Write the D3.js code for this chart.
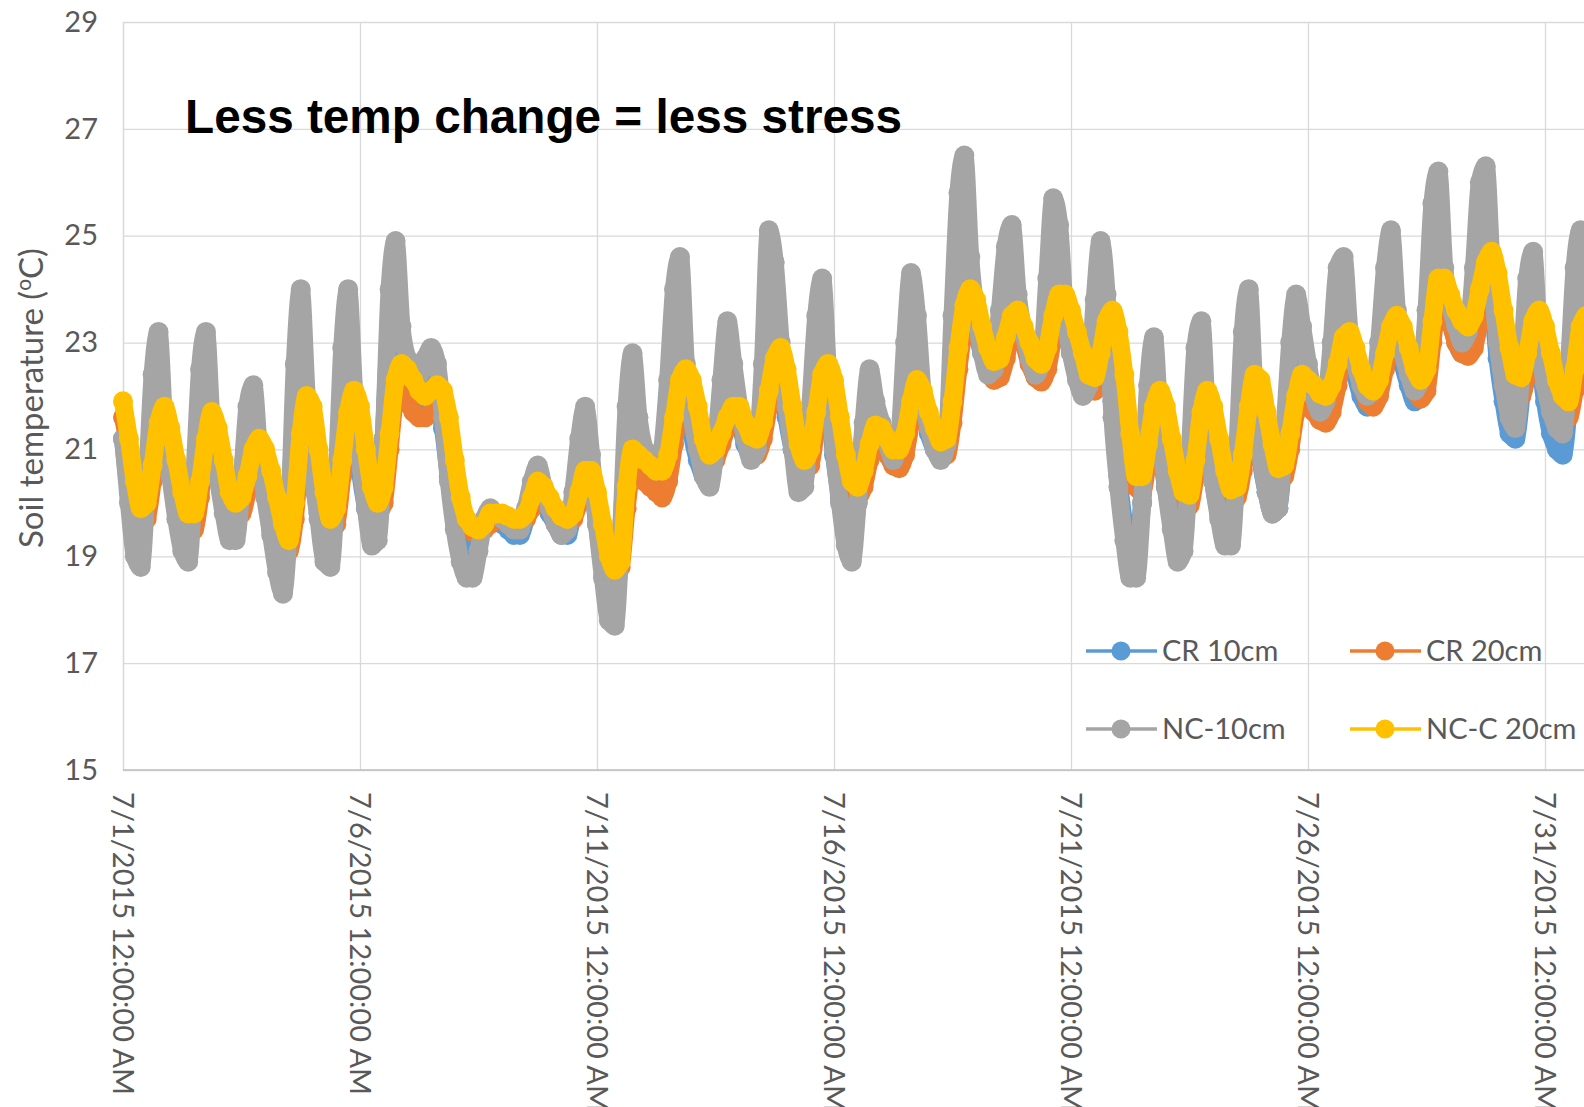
<!DOCTYPE html>
<html>
<head>
<meta charset="utf-8">
<script src="https://cdn.jsdelivr.net/npm/d3@7"></script>
<style>
  body { margin: 0; background: #fff; }
  svg { display: block; }
  .tick line { stroke: #d9d9d9; stroke-width: 1.3; }
  .axis-text { fill: #595959; font-family: Lato, "Open Sans", sans-serif; }
</style>
</head>
<body>
<div id="chart"></div>
<script>
// Soil temperature, July 2015, readings every 3 hours from 7/1 12:00 AM
var startTime = Date.UTC(2015, 6, 1);
var stepHours = 3;

var seriesNames = ["CR 10cm", "CR 20cm", "NC-10cm", "NC-C 20cm"];
var seriesColors = ["#5b9bd5", "#ed7d31", "#a5a5a5", "#ffc000"];

// one row per day: 0h 3h 6h 9h 12h 15h 18h 21h
var cr10 = [
  21.2, 20.2, 19.4, 19.3, 20.4, 21.8, 22.3, 21.3,
  20.6, 19.9, 19.4, 19.3, 20.4, 21.8, 22.3, 21.2,
  20.5, 19.9, 19.5, 19.6, 20.4, 21.5, 21.8, 20.9,
  20.2, 19.5, 18.9, 18.7, 19.8, 21.8, 22.5, 21.4,
  20.5, 19.8, 19.2, 19.1, 20.3, 22.0, 22.6, 21.6,
  20.6, 19.9, 19.4, 19.6, 21.2, 23.2, 23.1, 22.5,
  22.2, 22.0, 21.9, 22.2, 22.4, 22.1, 21.4, 20.5,
  19.8, 19.3, 19.0, 19.0, 19.3, 19.6, 19.8, 19.7,
  19.6, 19.5, 19.4, 19.4, 19.7, 20.1, 20.4, 20.1,
  19.8, 19.6, 19.4, 19.4, 19.9, 20.7, 21.2, 20.6,
  19.6, 18.8, 18.1, 18.0, 19.3, 21.2, 21.9, 21.2,
  20.8, 20.6, 20.5, 20.8, 21.8, 22.9, 23.0, 22.1,
  21.3, 20.8, 20.5, 20.4, 21.0, 22.0, 22.7, 22.2,
  21.6, 21.1, 20.9, 21.0, 22.2, 23.3, 23.3, 22.5,
  21.6, 21.0, 20.5, 20.5, 21.5, 22.7, 22.9, 22.0,
  20.9, 20.1, 19.5, 19.3, 20.0, 21.2, 21.8, 21.5,
  21.3, 21.0, 20.9, 21.1, 22.2, 23.0, 22.8, 21.9,
  21.3, 21.0, 20.9, 21.1, 22.8, 24.2, 24.5, 23.7,
  23.2, 22.8, 22.5, 22.6, 23.3, 24.0, 24.2, 23.6,
  23.1, 22.7, 22.5, 22.7, 23.6, 24.3, 24.1, 23.3,
  22.8, 22.4, 22.1, 22.3, 23.2, 23.8, 23.4, 21.9,
  20.5, 19.6, 19.1, 19.0, 20.0, 21.6, 22.3, 21.2,
  20.3, 19.7, 19.3, 19.4, 20.6, 22.1, 22.5, 21.4,
  20.4, 19.8, 19.5, 19.5, 20.6, 22.2, 22.8, 21.7,
  20.8, 20.2, 19.8, 19.9, 21.0, 22.4, 22.9, 22.7,
  22.3, 21.9, 21.7, 21.8, 22.6, 23.6, 23.8, 23.0,
  22.4, 22.0, 21.8, 21.9, 22.6, 23.6, 24.0, 23.2,
  22.6, 22.2, 21.9, 22.0, 23.0, 24.4, 24.9, 23.9,
  23.4, 23.0, 22.8, 22.9, 23.8, 24.9, 25.1, 24.0,
  22.7, 21.9, 21.3, 21.2, 22.0, 23.4, 23.9, 22.8,
  21.9, 21.3, 21.0, 20.9, 21.8, 23.4, 24.0, 23.2,
  22.5
];

var cr20 = [
  21.6, 21.0, 20.2, 19.6, 19.7, 20.4, 21.3, 21.6,
  21.2, 20.6, 19.9, 19.5, 19.5, 20.1, 21.0, 21.5,
  21.2, 20.6, 20.0, 19.8, 19.8, 20.2, 20.8, 21.0,
  20.8, 20.4, 19.9, 19.4, 19.1, 19.7, 21.0, 21.8,
  21.6, 20.8, 20.0, 19.5, 19.6, 20.5, 21.5, 21.9,
  21.6, 20.8, 20.0, 19.8, 20.0, 21.0, 22.0, 22.2,
  21.9, 21.7, 21.6, 21.6, 21.7, 21.8, 21.7, 21.1,
  20.6, 20.0, 19.6, 19.45, 19.4, 19.5, 19.6, 19.7,
  19.7, 19.6, 19.6, 19.6, 19.7, 19.9, 20.2, 20.1,
  19.9, 19.8, 19.6, 19.6, 19.7, 20.0, 20.4, 20.4,
  20.0, 19.4, 18.9, 18.6, 18.8, 19.9, 20.6, 20.5,
  20.4, 20.3, 20.2, 20.1, 20.4, 21.1, 21.9, 22.2,
  22.0, 21.5, 21.0, 20.7, 20.8, 21.1, 21.4, 21.6,
  21.6, 21.3, 21.0, 20.9, 21.2, 21.8, 22.4, 22.7,
  22.3, 21.6, 20.9, 20.6, 20.7, 21.4, 22.1, 22.4,
  22.1, 21.4, 20.7, 20.2, 20.1, 20.3, 20.8, 21.2,
  21.1, 20.9, 20.7, 20.65, 20.9, 21.5, 22.0, 21.9,
  21.4, 21.1, 20.9, 20.9, 21.5, 22.5, 23.3, 23.7,
  23.4, 22.9, 22.5, 22.3, 22.35, 22.7, 23.2, 23.3,
  23.0, 22.6, 22.35, 22.27, 22.5, 23.1, 23.6, 23.6,
  23.3, 22.8, 22.4, 22.15, 22.1, 22.5, 23.1, 23.3,
  22.9, 22.1, 21.1, 20.3, 20.2, 20.8, 21.5, 21.9,
  21.6, 21.0, 20.4, 20.0, 19.95, 20.5, 21.4, 21.8,
  21.6, 21.0, 20.4, 20.05, 20.1, 20.6, 21.5, 22.1,
  22.0, 21.4, 20.8, 20.45, 20.5, 21.0, 21.7, 22.1,
  21.9, 21.7, 21.55, 21.5, 21.7, 22.2, 22.8, 23.0,
  22.6, 22.2, 21.9, 21.8, 22.0, 22.5, 23.0, 23.3,
  23.0, 22.5, 22.1, 21.95, 22.1, 23.0, 23.8, 23.9,
  23.4, 23.0, 22.8, 22.75, 22.9, 23.4, 24.0, 24.3,
  23.9, 23.2, 22.5, 22.0, 22.0, 22.4, 23.1, 23.4,
  23.0, 22.4, 21.9, 21.65, 21.6, 22.1, 22.9, 23.2,
  23.0
];

var nc10 = [
  21.2, 20.0, 19.0, 18.8, 20.3, 22.4, 23.2, 21.4,
  20.5, 19.7, 19.1, 18.9, 20.4, 22.5, 23.2, 21.4,
  20.5, 19.8, 19.3, 19.3, 20.3, 21.8, 22.2, 20.9,
  20.1, 19.4, 18.7, 18.3, 19.6, 22.6, 24.0, 22.0,
  20.6, 19.7, 18.9, 18.8, 20.3, 22.9, 24.0, 22.1,
  20.8, 19.9, 19.2, 19.3, 21.2, 24.0, 24.9, 23.3,
  22.7, 22.5, 22.4, 22.7, 22.9, 22.6, 21.6, 20.4,
  19.5, 18.9, 18.6, 18.6, 19.1, 19.7, 19.9, 19.8,
  19.7, 19.6, 19.5, 19.5, 19.9, 20.4, 20.7, 20.3,
  19.9, 19.6, 19.4, 19.5, 20.2, 21.2, 21.8, 20.9,
  19.6, 18.6, 17.8, 17.7, 19.3, 21.8, 22.8, 21.6,
  21.0, 20.7, 20.6, 21.0, 22.3, 24.0, 24.6, 22.6,
  21.6, 21.0, 20.5, 20.3, 21.0, 22.3, 23.4, 22.6,
  21.8, 21.2, 20.8, 21.0, 22.6, 25.1, 24.5, 23.0,
  21.8, 21.0, 20.2, 20.3, 21.8, 23.5, 24.2, 22.4,
  21.0, 20.0, 19.2, 18.9, 20.0, 21.5, 22.5, 21.9,
  21.5, 21.1, 20.8, 21.2, 23.0, 24.3, 23.5, 22.0,
  21.4, 21.0, 20.8, 21.1, 23.5, 25.8, 26.5, 24.6,
  23.5, 22.8, 22.4, 22.5, 23.6, 24.8, 25.2, 23.9,
  23.2, 22.7, 22.4, 22.6, 24.2, 25.7, 25.2, 23.5,
  22.8, 22.3, 22.0, 22.2, 23.8, 24.9, 23.9, 21.6,
  20.3, 19.3, 18.6, 18.6, 20.0, 22.2, 23.1, 21.4,
  20.3, 19.5, 18.9, 19.1, 20.8, 22.9, 23.4, 21.5,
  20.4, 19.7, 19.2, 19.2, 20.8, 23.2, 24.0, 22.0,
  20.9, 20.2, 19.8, 19.9, 21.3, 23.0, 23.9, 23.3,
  22.6, 22.0, 21.7, 21.9, 23.0, 24.4, 24.6, 23.2,
  22.6, 22.2, 22.0, 22.1, 23.0, 24.4, 25.1, 23.6,
  22.8, 22.4, 22.1, 22.3, 23.6, 25.6, 26.2, 24.4,
  23.7, 23.3, 23.0, 23.2, 24.4, 26.0, 26.3, 24.4,
  23.0, 22.2, 21.6, 21.4, 22.4, 24.2, 24.7, 23.0,
  22.2, 21.7, 21.4, 21.3, 22.5, 24.4, 25.1, 23.6,
  22.8
];

var ncc20 = [
  21.9, 21.2, 20.4, 19.9, 20.0, 20.7, 21.5, 21.8,
  21.4, 20.8, 20.2, 19.8, 19.8, 20.4, 21.2, 21.7,
  21.4, 20.8, 20.2, 20.0, 20.1, 20.5, 21.0, 21.2,
  21.0, 20.6, 20.1, 19.6, 19.3, 20.0, 21.3, 22.0,
  21.8, 21.0, 20.2, 19.7, 19.9, 20.8, 21.7, 22.1,
  21.8, 21.0, 20.3, 20.0, 20.3, 21.3, 22.3, 22.6,
  22.5, 22.3, 22.1, 22.0, 22.1, 22.2, 22.1, 21.6,
  20.8, 20.1, 19.7, 19.55, 19.5, 19.6, 19.8, 19.8,
  19.8, 19.75, 19.7, 19.7, 19.8, 20.1, 20.4, 20.3,
  20.1, 19.9, 19.75, 19.7, 19.8, 20.2, 20.6, 20.6,
  20.2, 19.6, 19.0, 18.75, 18.9, 20.3, 21.0, 20.9,
  20.8, 20.7, 20.6, 20.6, 20.9, 21.6, 22.3, 22.5,
  22.3, 21.8, 21.2, 20.9, 21.0, 21.3, 21.6, 21.8,
  21.8, 21.5, 21.25, 21.2, 21.5, 22.1, 22.7, 22.9,
  22.5, 21.8, 21.1, 20.8, 21.0, 21.7, 22.4, 22.6,
  22.3, 21.6, 20.9, 20.4, 20.3, 20.6, 21.1, 21.45,
  21.4, 21.2, 21.0, 21.0, 21.3, 21.9, 22.3, 22.1,
  21.7, 21.4, 21.15, 21.2, 21.9, 22.9, 23.7, 24.0,
  23.8, 23.3, 22.9, 22.65, 22.7, 23.1, 23.5, 23.6,
  23.3, 23.0, 22.7, 22.6, 22.9, 23.5, 23.9, 23.9,
  23.6, 23.2, 22.8, 22.4, 22.35, 22.8, 23.4, 23.6,
  23.2, 22.4, 21.3, 20.5, 20.5, 21.1, 21.8, 22.1,
  21.8, 21.2, 20.6, 20.2, 20.15, 20.8, 21.7, 22.1,
  21.8, 21.2, 20.6, 20.25, 20.3, 20.9, 21.8, 22.4,
  22.3, 21.7, 21.1, 20.65, 20.7, 21.3, 22.0, 22.4,
  22.3, 22.2, 22.05, 22.0, 22.2, 22.6, 23.1, 23.2,
  22.9, 22.5, 22.2, 22.1, 22.3, 22.8, 23.3, 23.5,
  23.3, 22.9, 22.5, 22.3, 22.5, 23.4, 24.2, 24.2,
  23.9, 23.6, 23.4, 23.3, 23.5, 24.0, 24.5, 24.7,
  24.3, 23.6, 22.9, 22.4, 22.35, 22.8, 23.4, 23.6,
  23.3, 22.8, 22.3, 22.0, 21.9, 22.5, 23.3, 23.5,
  23.3
];

var yTicks = [15, 17, 19, 21, 23, 25, 27, 29];
var xTickDates = [1, 6, 11, 16, 21, 26, 31].map(function(day) { return new Date(Date.UTC(2015, 6, day)); });
var xTickLabels = ["7/1/2015 12:00:00 AM", "7/6/2015 12:00:00 AM", "7/11/2015 12:00:00 AM",
  "7/16/2015 12:00:00 AM", "7/21/2015 12:00:00 AM", "7/26/2015 12:00:00 AM", "7/31/2015 12:00:00 AM"];

var svgWidth = 1584;
var svgHeight = 1107;
var plot = {left: 123, top: 22, bottom: 770, right: 1584};

var svg = d3.select("#chart")
  .append("svg")
  .attr("width", svgWidth)
  .attr("height", svgHeight);

svg.append("rect").attr("width", svgWidth).attr("height", svgHeight).attr("fill", "#fff");

var x = d3.scaleUtc()
  .domain([xTickDates[0], xTickDates[xTickDates.length - 1]])
  .range([plot.left, 1545]);
var y = d3.scaleLinear().domain([15, 29]).range([plot.bottom, plot.top]);

// gridlines + y labels
var yAxis = d3.axisLeft(y)
  .tickValues(yTicks)
  .tickSize(-(plot.right - plot.left))
  .tickSizeOuter(0)
  .tickPadding(25);
var gy = svg.append("g")
  .attr("transform", "translate(" + plot.left + ",0)")
  .call(yAxis);
gy.select(".domain").attr("stroke", "#d9d9d9").attr("stroke-width", 1.3);
gy.selectAll("text")
  .attr("class", "axis-text")
  .style("font-size", "29px");

var xAxis = d3.axisBottom(x)
  .tickValues(xTickDates)
  .tickSize(-(plot.bottom - plot.top))
  .tickFormat(function(d, i) { return xTickLabels[i]; });
var gx = svg.append("g")
  .attr("transform", "translate(0," + plot.bottom + ")")
  .call(xAxis);
gx.select(".domain").remove();
gx.selectAll("text")
  .attr("class", "axis-text")
  .style("font-size", "29px")
  .attr("transform", "rotate(90)")
  .attr("x", 22)
  .attr("y", 0)
  .attr("dy", "0.35em")
  .style("text-anchor", "start");

svg.append("line")
  .attr("x1", plot.left).attr("x2", plot.right)
  .attr("y1", plot.bottom).attr("y2", plot.bottom)
  .attr("stroke", "#bfbfbf").attr("stroke-width", 1.5);

// series
var allSeries = [cr10, cr20, nc10, ncc20].map(function(values, i) {
  return {
    name: seriesNames[i],
    color: seriesColors[i],
    points: values.map(function(v, j) {
      return {t: new Date(startTime + j * stepHours * 3600 * 1000), v: v};
    })
  };
});

var line = d3.line()
  .curve(d3.curveMonotoneX)
  .x(function(d) { return x(d.t); })
  .y(function(d) { return y(d.v); });

// dense markers in the original merge into a thick band, so the line is drawn wide
allSeries.forEach(function(s) {
  var g = svg.append("g");
  g.append("path")
    .attr("d", line(s.points))
    .attr("fill", "none")
    .attr("stroke", s.color)
    .attr("stroke-width", 18)
    .attr("stroke-linejoin", "round")
    .attr("stroke-linecap", "round");
  g.selectAll("circle")
    .data(s.points)
    .enter()
    .append("circle")
    .attr("cx", function(d) { return x(d.t); })
    .attr("cy", function(d) { return y(d.v); })
    .attr("r", 10)
    .attr("fill", s.color);
});

// y-axis title
var yTitle = svg.append("text")
  .attr("class", "axis-text")
  .attr("transform", "translate(31,398) rotate(-90)")
  .attr("dy", "0.35em")
  .style("text-anchor", "middle")
  .style("font-size", "33px");
yTitle.append("tspan").text("Soil temperature (");
yTitle.append("tspan").attr("dy", -12).style("font-size", "21px").text("o");
yTitle.append("tspan").attr("dy", 12).text("C)");

// title
svg.append("text")
  .attr("x", 185)
  .attr("y", 133)
  .style("font-family", "'Liberation Sans', Arial, sans-serif")
  .style("font-weight", "bold")
  .style("font-size", "47.7px")
  .attr("fill", "#000")
  .text("Less temp change = less stress");

// legend
var legendPos = [
  {x: 1086, y: 651}, {x: 1350, y: 651},
  {x: 1086, y: 729}, {x: 1350, y: 729}
];
allSeries.forEach(function(s, i) {
  var p = legendPos[i];
  var lg = svg.append("g").attr("transform", "translate(" + p.x + "," + p.y + ")");
  lg.append("line")
    .attr("x1", 0).attr("x2", 71)
    .attr("stroke", s.color).attr("stroke-width", 3.5);
  lg.append("circle").attr("cx", 35).attr("r", 9.5).attr("fill", s.color);
  lg.append("text")
    .attr("class", "axis-text")
    .attr("x", 76)
    .attr("dy", "0.35em")
    .style("font-size", "29px")
    .text(s.name);
});
</script>
</body>
</html>
